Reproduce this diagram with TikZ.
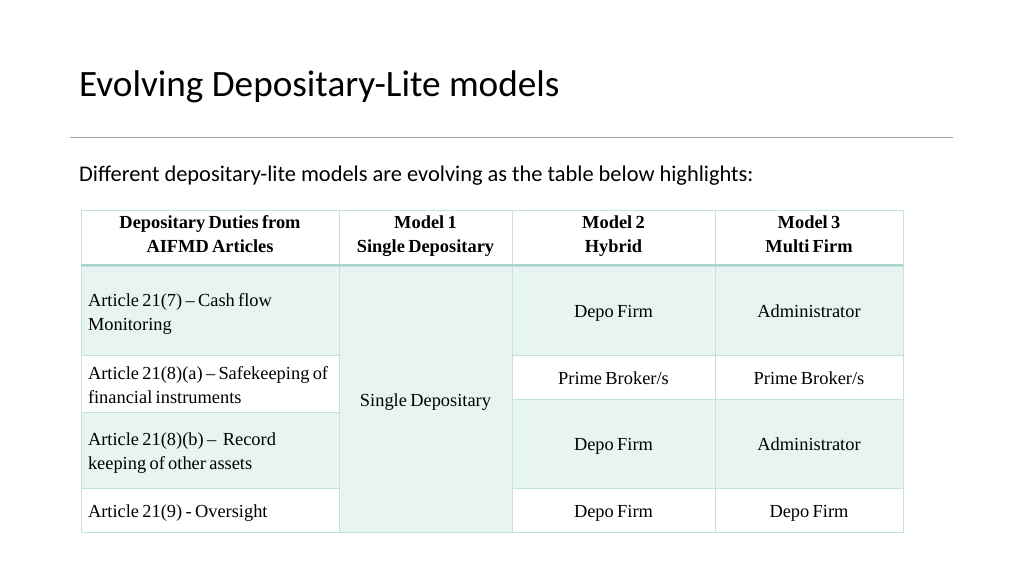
\documentclass[tikz,border=0pt]{standalone}
\usepackage{fontspec}
\setmainfont{Liberation Serif}[WordSpace=0.72]
\newfontfamily\calib{Carlito}
\definecolor{tealfill}{RGB}{232,244,242}
\definecolor{gridc}{RGB}{196,226,221}
\definecolor{headc}{RGB}{168,212,204}
\definecolor{rulec}{RGB}{160,160,160}
\tikzset{
  cell/.style={draw=gridc, line width=1pt, rectangle, inner sep=0pt, outer sep=0pt,
    font=\fontsize{18.4}{24}\selectfont, align=center,
    execute at begin node={\rule{0pt}{21.8pt}}, execute at end node={\strut}},
  lcell/.style={cell, inner xsep=7pt, align=flush left,
    execute at begin node={\rule{0pt}{23pt}}},
  hcell/.style={cell, font=\fontsize{18.4}{24}\selectfont\bfseries,
    execute at begin node={\rule{0pt}{19pt}},
    execute at end node={\strut}},
  tl/.style={fill=tealfill},
  wt/.style={fill=white}
}
\begin{document}
\begin{tikzpicture}[x=1pt,y=-1pt]
\useasboundingbox (0,0) rectangle (1024,576);
\fill[white] (0,0) rectangle (1024,576);
% title
\node[anchor=base west, inner sep=0pt, font=\calib\fontsize{37.2}{44}\selectfont] (title) at (79,96) {Evolving Depositary-Lite models};
\coordinate (ruleL) at (70,137);
\coordinate (ruleR) at (953,137);
\draw[rulec, line width=0.9pt] (ruleL) -- (ruleR);
\node[anchor=base west, inner sep=0pt, font=\calib\fontsize{22.4}{26}\selectfont] (sub) at (79,181) {Different depositary-lite models are evolving as the table below highlights:};
% header row (210-265)
\node[hcell, wt, minimum width=258, minimum height=55] (h1) at (210,237.5) {Depositary Duties from\\AIFMD Articles};
\node[hcell, wt, minimum width=173, minimum height=55] (h2) at (425.5,237.5) {Model 1\\Single Depositary};
\node[hcell, wt, minimum width=203, minimum height=55] (h3) at (613.5,237.5) {Model 2\\Hybrid};
\node[hcell, wt, minimum width=188, minimum height=55] (h4) at (809,237.5) {Model 3\\Multi Firm};
% column 1
\node[lcell, tl, text width=244, minimum height=89] (a1) at (210,310.5) {Article 21(7) -- Cash flow\\Monitoring};
\node[lcell, wt, text width=244, minimum height=57] (a2) at (210,383.5) {\mbox{Article 21(8)(a) -- Safekeeping of}\\financial instruments};
\node[lcell, tl, text width=244, minimum height=76] (a3) at (210,450) {Article 21(8)(b) --\ \ Record\\keeping of other assets};
\node[lcell, wt, text width=244, minimum height=44] (a4) at (210,510) {Article 21(9) - Oversight};
% column 2 merged
\node[cell, tl, minimum width=173, minimum height=266] (b1) at (425.5,399) {Single Depositary};
% column 3
\node[cell, tl, minimum width=203, minimum height=89] (c1) at (613.5,310.5) {Depo Firm};
\node[cell, wt, minimum width=203, minimum height=44] (c2) at (613.5,377) {Prime Broker/s};
\node[cell, tl, minimum width=203, minimum height=89] (c3) at (613.5,443.5) {Depo Firm};
\node[cell, wt, minimum width=203, minimum height=44] (c4) at (613.5,510) {Depo Firm};
% column 4
\node[cell, tl, minimum width=188, minimum height=89] (d1) at (809,310.5) {Administrator};
\node[cell, wt, minimum width=188, minimum height=44] (d2) at (809,377) {Prime Broker/s};
\node[cell, tl, minimum width=188, minimum height=89] (d3) at (809,443.5) {Administrator};
\node[cell, wt, minimum width=188, minimum height=44] (d4) at (809,510) {Depo Firm};
% header separator
\draw[headc, line width=2.5pt] (h1.south west) -- (h4.south east);
\end{tikzpicture}
\end{document}
